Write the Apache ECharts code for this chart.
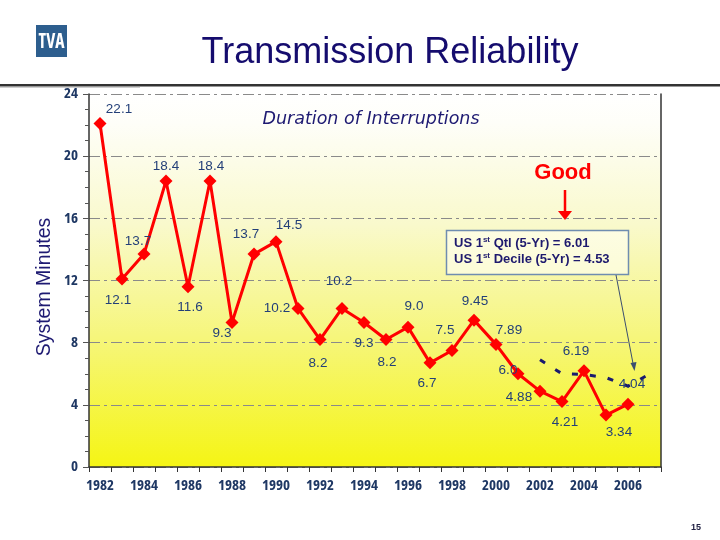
<!DOCTYPE html>
<html>
<head>
<meta charset="utf-8">
<script src="https://cdn.jsdelivr.net/npm/echarts@6/dist/echarts.min.js"></script>
<style>html,body{margin:0;padding:0;background:#fff;}#c{width:720px;height:540px;}</style>
</head>
<body>
<div id="c"></div>
<script>
// ---- data ----
var years = ['1982','1983','1984','1985','1986','1987','1988','1989','1990','1991','1992','1993','1994','1995','1996','1997','1998','1999','2000','2001','2002','2003','2004','2005','2006','2007'];
var minutes = [22.1, 12.1, 13.7, 18.4, 11.6, 18.4, 9.3, 13.7, 14.5, 10.2, 8.2, 10.2, 9.3, 8.2, 9.0, 6.7, 7.5, 9.45, 7.89, 6.0, 4.88, 4.21, 6.19, 3.34, 4.04, null];
var valueLabels = ['22.1','12.1','13.7','18.4','11.6','18.4','9.3','13.7','14.5','10.2','8.2','10.2','9.3','8.2','9.0','6.7','7.5','9.45','7.89','6.0','4.88','4.21','6.19','3.34','4.04'];
var benchmarkTrend = [null,null,null,null,null,null,null,null,null,null,null,null,null,null,null,null,null,null,null,null, 6.9, 6.0, 5.95, 5.75, 5.2, 6.0];
var yTicks = {min: 0, max: 24, step: 4};
// label offsets (layout only)
var labelOffsets = [[19,-14],[-4,21],[-6,-13],[0,-15],[2,21],[1,-15],[-10,11],[-8,-20],[13,-16],[-21,0],[-2,24],[-3,-27],[0,21],[1,23],[6,-21],[-3,20],[-7,-20],[1,-19],[13,-14],[-10,-3],[-21,6],[3,21],[-8,-20],[13,17],[4,-20]];

var navy = '#1F3864';
var narrowFamily = "'Open Sans','DejaVu Sans',sans-serif";
var gridDash = [11,4,3,4];

var lineData = minutes.map(function(v, i){
  if (v === null) return null;
  return {
    value: v,
    label: {
      show: true, position: 'inside', offset: labelOffsets[i],
      formatter: valueLabels[i], color: '#233F78', fontSize: 13.5,
      fontFamily: "'Liberation Sans',Arial,sans-serif"
    }
  };
});

var chart = echarts.init(document.getElementById('c'), null, {renderer: 'canvas'});
chart.setOption({
  animation: false,
  backgroundColor: '#ffffff',
  grid: {
    left: 89, right: 59, top: 94, bottom: 73, show: true, borderWidth: 0,
    backgroundColor: {
      type: 'linear', x: 0, y: 0, x2: 0, y2: 1,
      colorStops: [
        {offset: 0, color: '#ffffff'},
        {offset: 0.08, color: '#fefef8'},
        {offset: 0.35, color: '#f9f9cc'},
        {offset: 0.65, color: '#f6f67c'},
        {offset: 1, color: '#f5f514'}
      ]
    }
  },
  xAxis: {
    type: 'category', data: years, boundaryGap: true,
    axisLine: {show: true, lineStyle: {color: '#333', width: 1.5}},
    axisTick: {show: true, interval: 0, length: 5, lineStyle: {color: '#333'}},
    axisLabel: {interval: 1, color: navy, fontSize: 15, fontWeight: 'bold condensed', fontFamily: narrowFamily, margin: 11},
    splitLine: {show: false}
  },
  yAxis: [{
    type: 'value', min: yTicks.min, max: yTicks.max, interval: yTicks.step,
    axisLine: {show: true, lineStyle: {color: '#333', width: 1.5}},
    axisTick: {show: true, length: 6, lineStyle: {color: '#555'}},
    minorTick: {show: true, splitNumber: 4, length: 4, lineStyle: {color: '#555'}},
    axisLabel: {color: navy, fontSize: 15, fontWeight: 'bold condensed', fontFamily: narrowFamily, margin: 11},
    splitLine: {show: true, lineStyle: {color: '#8a8a8a', width: 1.2, type: gridDash}}
  }, {
    type: 'value', position: 'right', min: yTicks.min, max: yTicks.max, interval: yTicks.step,
    axisLine: {show: true, lineStyle: {color: '#333', width: 1.5}},
    axisTick: {show: false}, axisLabel: {show: false}, splitLine: {show: false}
  }],
  series: [{
    type: 'line', data: lineData, yAxisIndex: 0,
    lineStyle: {color: '#ff0000', width: 3},
    itemStyle: {color: '#ff0000'},
    symbol: 'diamond', symbolSize: 13, z: 5
  }, {
    type: 'line', data: benchmarkTrend, yAxisIndex: 0,
    lineStyle: {color: '#1a1a6e', width: 3, type: [6, 12]},
    symbol: 'none', z: 3
  }],
  graphic: [
    // header
    {type: 'rect', shape: {x: 36, y: 25, width: 31, height: 32}, style: {fill: '#2D5E8E'}},
    {type: 'text', x: 51.5, y: 41.5, scaleX: 0.8, style: {x: 0, y: 0, text: 'TVA', fill: '#ffffff', font: "bold condensed 22px 'Open Sans', sans-serif", align: 'center', verticalAlign: 'middle'}},
    {type: 'text', style: {x: 390, y: 53, text: 'Transmission Reliability', fill: '#150C6E', font: "36px 'Liberation Sans', Arial, sans-serif", align: 'center', verticalAlign: 'middle'}},
    {type: 'rect', shape: {x: 0, y: 84, width: 720, height: 2.5}, style: {fill: '#333333'}},
    {type: 'rect', shape: {x: 0, y: 87, width: 140, height: 1}, style: {fill: '#cfcfcf'}},
    // y axis name
    {type: 'text', x: 45, y: 287, rotation: Math.PI / 2, style: {x: 0, y: 0, text: 'System Minutes', fill: '#1E1A72', font: "19.5px 'Liberation Sans', Arial, sans-serif", align: 'center', verticalAlign: 'middle'}},
    // subtitle
    {type: 'text', style: {x: 371, y: 119, text: 'Duration of Interruptions', fill: '#1E1A72', font: "italic 17.5px 'DejaVu Sans', Verdana, sans-serif", align: 'center', verticalAlign: 'middle'}},
    // Good + arrow
    {type: 'text', style: {x: 563, y: 173, text: 'Good', fill: '#ff0000', font: "bold 22px 'Liberation Sans', Arial, sans-serif", align: 'center', verticalAlign: 'middle'}},
    {type: 'line', shape: {x1: 565, y1: 190, x2: 565, y2: 213}, style: {stroke: '#ff0000', lineWidth: 2.5}},
    {type: 'polygon', shape: {points: [[558, 211], [572, 211], [565, 220]]}, style: {fill: '#ff0000'}},
    // benchmark box
    {type: 'rect', shape: {x: 446.5, y: 230.5, width: 182, height: 44}, style: {fill: 'rgba(255,255,245,0.6)', stroke: '#6F8DB0', lineWidth: 1.5}},
    {type: 'text', style: {x: 454, y: 243, text: 'US 1{s|st} Qtl (5-Yr) = 6.01', fill: '#1E1A6E', font: "bold 13px 'Liberation Sans', Arial, sans-serif", verticalAlign: 'middle',
      rich: {s: {fontSize: 8, fontWeight: 'bold', verticalAlign: 'top', padding: [0,0,6,0], fill: '#1E1A6E', fontFamily: 'Liberation Sans'}}}},
    {type: 'text', style: {x: 454, y: 259, text: 'US 1{s|st} Decile (5-Yr) = 4.53', fill: '#1E1A6E', font: "bold 13px 'Liberation Sans', Arial, sans-serif", verticalAlign: 'middle',
      rich: {s: {fontSize: 8, fontWeight: 'bold', verticalAlign: 'top', padding: [0,0,6,0], fill: '#1E1A6E', fontFamily: 'Liberation Sans'}}}},
    {type: 'line', shape: {x1: 616, y1: 275, x2: 633.5, y2: 366}, style: {stroke: '#3B4E70', lineWidth: 1}},
    {type: 'polygon', shape: {points: [[630.5, 363], [636.5, 362], [634.5, 371]]}, style: {fill: '#3B4E70'}},
    // page number
    {type: 'text', style: {x: 696, y: 528, text: '15', fill: '#222244', font: "bold 9px 'Liberation Sans', Arial, sans-serif", align: 'center', verticalAlign: 'middle'}}
  ]
});
</script>
</body>
</html>
